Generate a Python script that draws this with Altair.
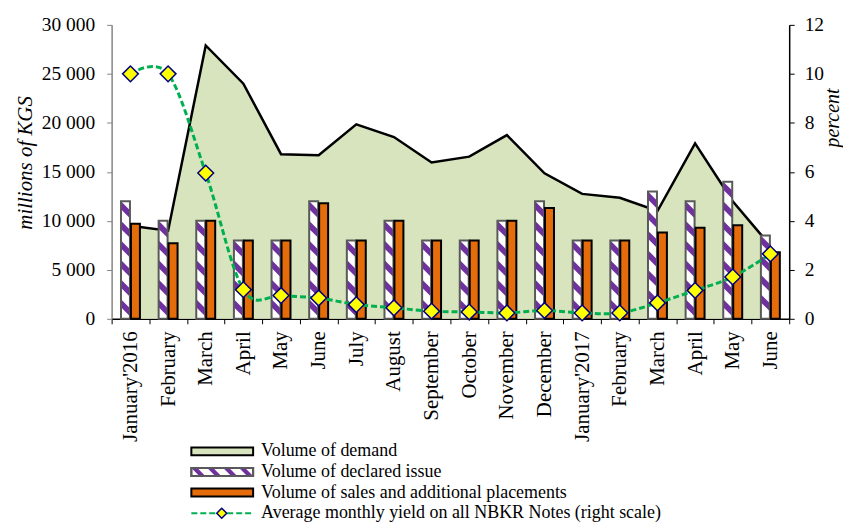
import json
import altair as alt
import pandas as pd

# ---------------- data ----------------
months = ["January'2016", "February", "March", "April", "May", "June", "July",
          "August", "September", "October", "November", "December",
          "January'2017", "February", "March", "April", "May", "June"]
demand = [9500, 9000, 27900, 24000, 16800, 16700, 19850, 18550, 15950, 16550,
          18750, 14850, 12750, 12350, 11000, 17900, 12000, 7450]
declared = [12000, 10000, 10000, 8000, 8000, 12000, 8000, 10000, 8000, 8000,
            10000, 12000, 8000, 8000, 13000, 12000, 14000, 8500]
sales = [9700, 7700, 10000, 8000, 8000, 11800, 8000, 10000, 8000, 8000,
         10000, 11300, 8000, 8000, 8800, 9300, 9550, 6800]
yield_pct = [10.0, 10.0, 5.95, 1.19, 0.95, 0.85, 0.58, 0.45, 0.31, 0.28,
             0.24, 0.34, 0.24, 0.24, 0.65, 1.16, 1.71, 2.65]
left_ticks = [0, 5000, 10000, 15000, 20000, 25000, 30000]
right_ticks = [0, 2, 4, 6, 8, 10, 12]
legend_labels = ["Volume of demand", "Volume of declared issue",
                 "Volume of sales and additional placements",
                 "Average monthly yield on all NBKR Notes (right scale)"]

SERIF = "Liberation Serif"
GREEN_FILL = "#D7E4BD"
ORANGE = "#E46C0A"
PURPLE = "#7030A0"
DECL_STROKE = "#595959"
YIELD_GREEN = "#00B050"

df = pd.DataFrame({"idx": list(range(len(months))), "demand": demand,
                   "declared": declared, "sales": sales, "yield": yield_pct})

# hatch stripes for the declared bars (decoration derived from bar heights)
stripe_rows = []
for i, v in enumerate(declared):
    c = v - 870
    while c >= 870:
        stripe_rows.append({"idx": i, "s": c})
        c -= 2000
stripes_df = pd.DataFrame(stripe_rows)

BAR_STRIPE = "M-1,-1.9L1,0.1L1,1.9L-1,-0.1Z"

W, H = 680, 295

x_enc = alt.X(
    "idx:O",
    scale=alt.Scale(paddingInner=0, paddingOuter=0),
    axis=alt.Axis(title=None, labelExpr=json.dumps(months) + "[datum.value]",
                  labelAngle=270, labelFontSize=21, labelPadding=7,
                  tickBand="extent", tickSize=5, tickColor="black",
                  domainColor="black", domainWidth=1.5, tickWidth=1),
)

left_axis = alt.Axis(values=left_ticks, title="millions of KGS",
                     labelExpr="replace(format(datum.value, ','), ',', ' ')",
                     labelFontSize=19.5, labelPadding=12, tickSize=5,
                     tickColor="#868686", domainColor="#868686", domainWidth=1.5,
                     titleFontSize=21, titleFontStyle="italic",
                     titleFontWeight="normal", titlePadding=6, titleY=138,
                     grid=False)
right_axis = alt.Axis(values=right_ticks, title="percent", orient="right",
                      labelFontSize=19.5, labelPadding=10, tickSize=5,
                      tickColor="black", domainColor="black", domainWidth=1.5,
                      titleFontSize=20, titleFontStyle="italic",
                      titleFontWeight="normal", titlePadding=-1, titleAngle=270,
                      titleBaseline="top", titleY=93, grid=False)

lscale = alt.Scale(domain=[0, 30000], nice=False, zero=True)
rscale = alt.Scale(domain=[0, 12], nice=False, zero=True)

base = alt.Chart(df)

area = base.mark_area(color=GREEN_FILL, opacity=1).encode(
    x=x_enc, y=alt.Y("demand:Q", scale=lscale, axis=left_axis))
demand_line = base.mark_line(color="black", strokeWidth=2.5).encode(
    x=x_enc, y=alt.Y("demand:Q", scale=lscale, axis=left_axis))
decl_fill = base.mark_bar(width=9, xOffset=-5, fill="white", strokeWidth=0).encode(
    x=x_enc, y=alt.Y("declared:Q", scale=lscale, axis=left_axis))
stripes = alt.Chart(stripes_df).mark_point(
    shape=BAR_STRIPE, filled=True, fill=PURPLE, strokeWidth=0, size=81,
    opacity=1, xOffset=-5).encode(
    x=x_enc, y=alt.Y("s:Q", scale=lscale, axis=left_axis))
decl_outline = base.mark_bar(width=9, xOffset=-5, fillOpacity=0,
                             stroke=DECL_STROKE, strokeWidth=2).encode(
    x=x_enc, y=alt.Y("declared:Q", scale=lscale, axis=left_axis))
sales_bars = base.mark_bar(width=9, xOffset=5, fill=ORANGE, stroke="black",
                           strokeWidth=2).encode(
    x=x_enc, y=alt.Y("sales:Q", scale=lscale, axis=left_axis))

left_layer = alt.layer(area, demand_line, decl_fill, stripes, decl_outline, sales_bars)

yline = base.mark_line(color=YIELD_GREEN, strokeWidth=3, strokeDash=[6, 3],
                       interpolate="cardinal").encode(
    x=x_enc, y=alt.Y("yield:Q", scale=rscale, axis=right_axis))
ypoints = base.mark_point(shape="diamond", filled=True, fill="#FFFF00",
                          stroke="#000080", strokeWidth=1.5, size=250,
                          opacity=1).encode(
    x=x_enc, y=alt.Y("yield:Q", scale=rscale, axis=right_axis))
right_layer = alt.layer(yline, ypoints)

top = alt.layer(left_layer, right_layer).resolve_scale(y="independent").properties(
    width=W, height=H)

# ---------------- legend panel ----------------
leg_df = pd.DataFrame({"row": [0, 1, 2, 3], "label": legend_labels})
LH = 82.7
ly = alt.Y("row:O", axis=None,
           scale=alt.Scale(domain=[0, 1, 2, 3], paddingInner=0.615, paddingOuter=0.3075))
lbase = alt.Chart(leg_df)
SX0, SX1 = 80, 142
SC = (SX0 + SX1) / 2

def rect_row(r, fill, stroke):
    return lbase.transform_filter(alt.datum.row == r).mark_rect(
        fill=fill, stroke=stroke, strokeWidth=2).encode(
        x=alt.value(SX0), x2=alt.value(SX1), y=ly)

leg_hatch_path = "".join(
    "M{a},-1L{b},-1L{c},1L{d},1Z".format(a=c - 1.75, b=c - 0.25, c=c + 1.75, d=c + 0.25)
    for c in (-6, -2, 2, 6))

leg_layers = [
    rect_row(0, GREEN_FILL, "black"),
    rect_row(1, "white", DECL_STROKE),
    lbase.transform_filter(alt.datum.row == 1).mark_point(
        shape=leg_hatch_path, filled=True, fill=PURPLE, strokeWidth=0, size=64,
        opacity=1).encode(x=alt.value(SC), y=ly),
    rect_row(1, "transparent", DECL_STROKE),
    rect_row(2, ORANGE, "black"),
    lbase.transform_filter(alt.datum.row == 3).mark_rule(
        color=YIELD_GREEN, strokeWidth=2, strokeDash=[6, 3]).encode(
        x=alt.value(SX0), x2=alt.value(SX1), y=ly),
    lbase.transform_filter(alt.datum.row == 3).mark_point(
        shape="diamond", filled=True, fill="#FFFF00", stroke="#000080",
        strokeWidth=1.5, size=100, opacity=1).encode(x=alt.value(SC - 0.5), y=ly),
    lbase.mark_text(align="left", baseline="middle", fontSize=18, font=SERIF,
                    color="black").encode(x=alt.value(150), y=ly, text="label:N"),
]
legend = alt.layer(*leg_layers).properties(width=600, height=LH)

chart = alt.vconcat(top, legend, spacing=122.7, bounds="flush").properties(
    padding={"left": 6, "top": 6, "right": 0, "bottom": 0}
).configure(font=SERIF, background="white").configure_view(
    strokeWidth=0
).configure_axis(labelFont=SERIF, titleFont=SERIF, labelColor="black",
                 titleColor="black")

chart.save("out.html", embed_options={"renderer": "svg", "actions": False})
